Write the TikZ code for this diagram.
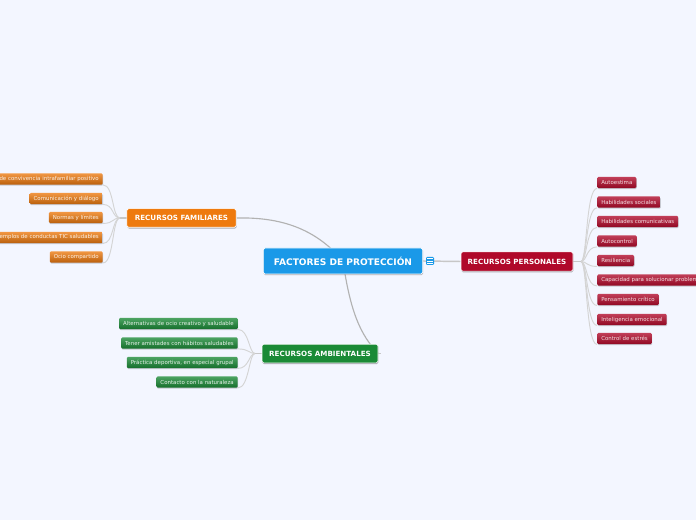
\documentclass[tikz,border=0pt]{standalone}
\usepackage{fontspec}
\setmainfont{DejaVu Sans}
\usetikzlibrary{shadows,calc}
\pgfdeclarelayer{bg}\pgfdeclarelayer{conn}\pgfsetlayers{bg,conn,main}
\definecolor{paper}{HTML}{F3F6FF}
\definecolor{cblue}{HTML}{1A99E8}
\definecolor{corange}{HTML}{EE7A0E}
\definecolor{cred}{HTML}{B0092A}
\definecolor{cgreen}{HTML}{1A8A36}
\tikzset{
  x=0.75pt,y=-0.75pt,
  mainbox/.style={rounded corners=1.2pt,draw=white,line width=.5pt,text=white,inner sep=0pt,
    font=\bfseries\fontsize{5.35}{6.5}\selectfont,
    drop shadow={shadow xshift=.3pt,shadow yshift=-.9pt,fill=black,opacity=.3}},
  leafbox/.style={rounded corners=1pt,inner xsep=3pt,inner ysep=0pt,minimum height=8.5pt,
    font=\fontsize{4.08}{5}\selectfont,
    drop shadow={shadow xshift=.3pt,shadow yshift=-.8pt,fill=black,opacity=.18}},
  oleaf/.style={leafbox,anchor=east,top color=corange!78!white,bottom color=corange!78!black,text=white!90!corange},
  rleaf/.style={leafbox,anchor=west,top color=cred!78!white,bottom color=cred!82!black,text=white!88!cred},
  gleaf/.style={leafbox,anchor=east,top color=cgreen!78!white,bottom color=cgreen!80!black,text=white!90!cgreen},
  mainline/.style={draw=black!30,line width=.85pt},
  stubline/.style={draw=black!22,line width=1.1pt},
  leafline/.style={draw=black!17,line width=.7pt},
}
\begin{document}
\begin{tikzpicture}
\useasboundingbox (0,0) rectangle (696,520);
\begin{pgfonlayer}{bg}
\fill[paper] (0,0) rectangle (696,520);
\end{pgfonlayer}
% main nodes
\node[mainbox,fill=cblue,minimum width=119.5pt,minimum height=19.5pt,drop shadow={opacity=0},font=\bfseries\fontsize{6.8}{8}\selectfont] (root) at (343,261) {FACTORES DE PROTECCIÓN};
\node[mainbox,fill=corange,minimum width=82pt,minimum height=14pt] (fam) at (181.5,218) {RECURSOS FAMILIARES};
\node[mainbox,fill=cred,minimum width=84pt,minimum height=14.5pt] (per) at (517,261.5) {RECURSOS PERSONALES};
\node[mainbox,fill=cgreen,minimum width=87pt,minimum height=14pt] (amb) at (320,353.5) {RECURSOS AMBIENTALES};
\node[fill=cblue,rounded corners=.8pt,minimum size=6pt,inner sep=0pt] (icon) at (430,261) {};
\draw[white,line width=.45pt] ($(icon.center)+(-2.7,-2.2)$) -- +(5.4,0) ($(icon.center)+(-2.7,0)$) -- +(5.4,0) ($(icon.center)+(-2.7,2.2)$) -- +(5.4,0);
% orange leaves
\node[oleaf,text width=75pt,align=right] (f1) at (103,179) {de convivencia intrafamiliar positivo};
\node[oleaf] (f2) at (103,198.5) {Comunicación y diálogo};
\node[oleaf] (f3) at (103,217.5) {Normas y límites};
\node[oleaf] (f4) at (103,237.5) {Ejemplos de conductas TIC saludables};
\node[oleaf] (f5) at (103,257) {Ocio compartido};
% red leaves
\node[rleaf] (p1) at (597,182.5) {Autoestima};
\node[rleaf] (p2) at (597,202) {Habilidades sociales};
\node[rleaf] (p3) at (597,221.5) {Habilidades comunicativas};
\node[rleaf] (p4) at (597,241) {Autocontrol};
\node[rleaf] (p5) at (597,260.5) {Resiliencia};
\node[rleaf] (p6) at (597,280) {Capacidad para solucionar problemas};
\node[rleaf] (p7) at (597,299.5) {Pensamiento crítico};
\node[rleaf] (p8) at (597,319.5) {Inteligencia emocional};
\node[rleaf] (p9) at (597,338.5) {Control de estrés};
% green leaves
\node[gleaf] (a1) at (238,323.5) {Alternativas de ocio creativo y saludable};
\node[gleaf] (a2) at (238,343) {Tener amistades con hábitos saludables};
\node[gleaf] (a3) at (238,362.5) {Práctica deportiva, en especial grupal};
\node[gleaf] (a4) at (238,382) {Contacto con la naturaleza};
% hubs
\coordinate (famhub) at (120,218);
\coordinate (perhub) at (581,261.5);
\coordinate (ambhub) at (255,353.5);
\coordinate (ambtail) at (381,353.5);
\begin{pgfonlayer}{conn}
\draw[mainline] (root.center) .. controls (315,228) and (280,217) .. (fam.east);
\draw[mainline] (root.center) .. controls (350,310) and (360,335) .. (amb.east);
\draw[stubline] (root.east) -- (per.west);
\draw[stubline] (fam.west) -- (famhub);
\draw[stubline] (per.east) -- (perhub);
\draw[stubline] (amb.west) -- (ambhub);
\draw[stubline] (amb.east) -- (ambtail);
\foreach \n in {f1,f2,f3,f4,f5}
  \draw[leafline] (famhub) .. controls +(-8,0) and ($(\n.south east)+(11,0)$) .. (\n.south east);
\foreach \n in {p1,p2,p3,p4,p5,p6,p7,p8,p9}
  \draw[leafline] (perhub) .. controls +(6,0) and ($(\n.south west)+(-11,0)$) .. (\n.south west);
\foreach \n in {a1,a2,a3,a4}
  \draw[leafline] (ambhub) .. controls +(-6,0) and ($(\n.south east)+(11,0)$) .. (\n.south east);
\end{pgfonlayer}
\end{tikzpicture}
\end{document}
